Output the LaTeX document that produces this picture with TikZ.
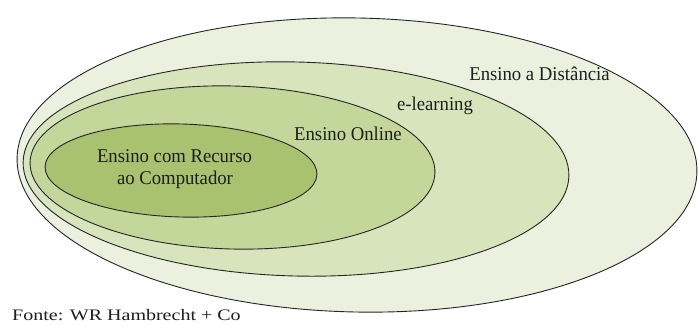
\documentclass[tikz,border=0pt]{standalone}
\usepackage{fontspec}
\setmainfont{Liberation Serif}[FakeStretch=0.96]
\newfontfamily\widefont{Liberation Serif}[FakeStretch=1.25]
\definecolor{outerfill}{HTML}{EBF1DE}
\definecolor{elearnfill}{HTML}{D8E4BC}
\definecolor{onlinefill}{HTML}{C4D79B}
\definecolor{innerfill}{HTML}{A9C26F}
\definecolor{rim}{HTML}{262626}
\definecolor{ink}{HTML}{1E1E1E}
\tikzset{
  ring/.style={draw=rim, line width=0.9pt},
  label/.style={anchor=base, inner sep=0pt, text=ink, font=\fontsize{19.5pt}{22pt}\selectfont},
}
\begin{document}
\begin{tikzpicture}[x=1pt, y=-1pt]
  \useasboundingbox[fill=white] (0,0) rectangle (698,324);

  % nested ellipses, outermost first
  \draw[ring, fill=outerfill, rotate around={-1.2:(357,165)}]
    (357,165) ellipse [x radius=340pt, y radius=147pt];
  \draw[ring, fill=elearnfill, rotate around={-1.5:(296,169)}]
    (296,169) ellipse [x radius=273pt, y radius=107pt];
  \draw[ring, fill=onlinefill, rotate around={-1.5:(232.5,167.5)}]
    (232.5,167.5) ellipse [x radius=202.5pt, y radius=81.5pt];
  \draw[ring, fill=innerfill, rotate around={-1.6:(181,170.5)}]
    (181,170.5) ellipse [x radius=136pt, y radius=46.5pt];

  % labels
  \node[label] (dist) at (539.5,80.7) {Ensino a Distância};
  \node[label] (elearn) at (435,110) {e-learning};
  \node[label] (online) at (348,140) {Ensino Online};
  \node[label] (cbt1) at (174.5,162.5) {Ensino com Recurso};
  \node[label] (cbt2) at (175,184.5) {ao Computador};
  \node[label, anchor=base west, font=\widefont\fontsize{16pt}{18pt}\selectfont]
    (source) at (12,320.7) {Fonte: WR Hambrecht + Co};
\end{tikzpicture}
\end{document}
